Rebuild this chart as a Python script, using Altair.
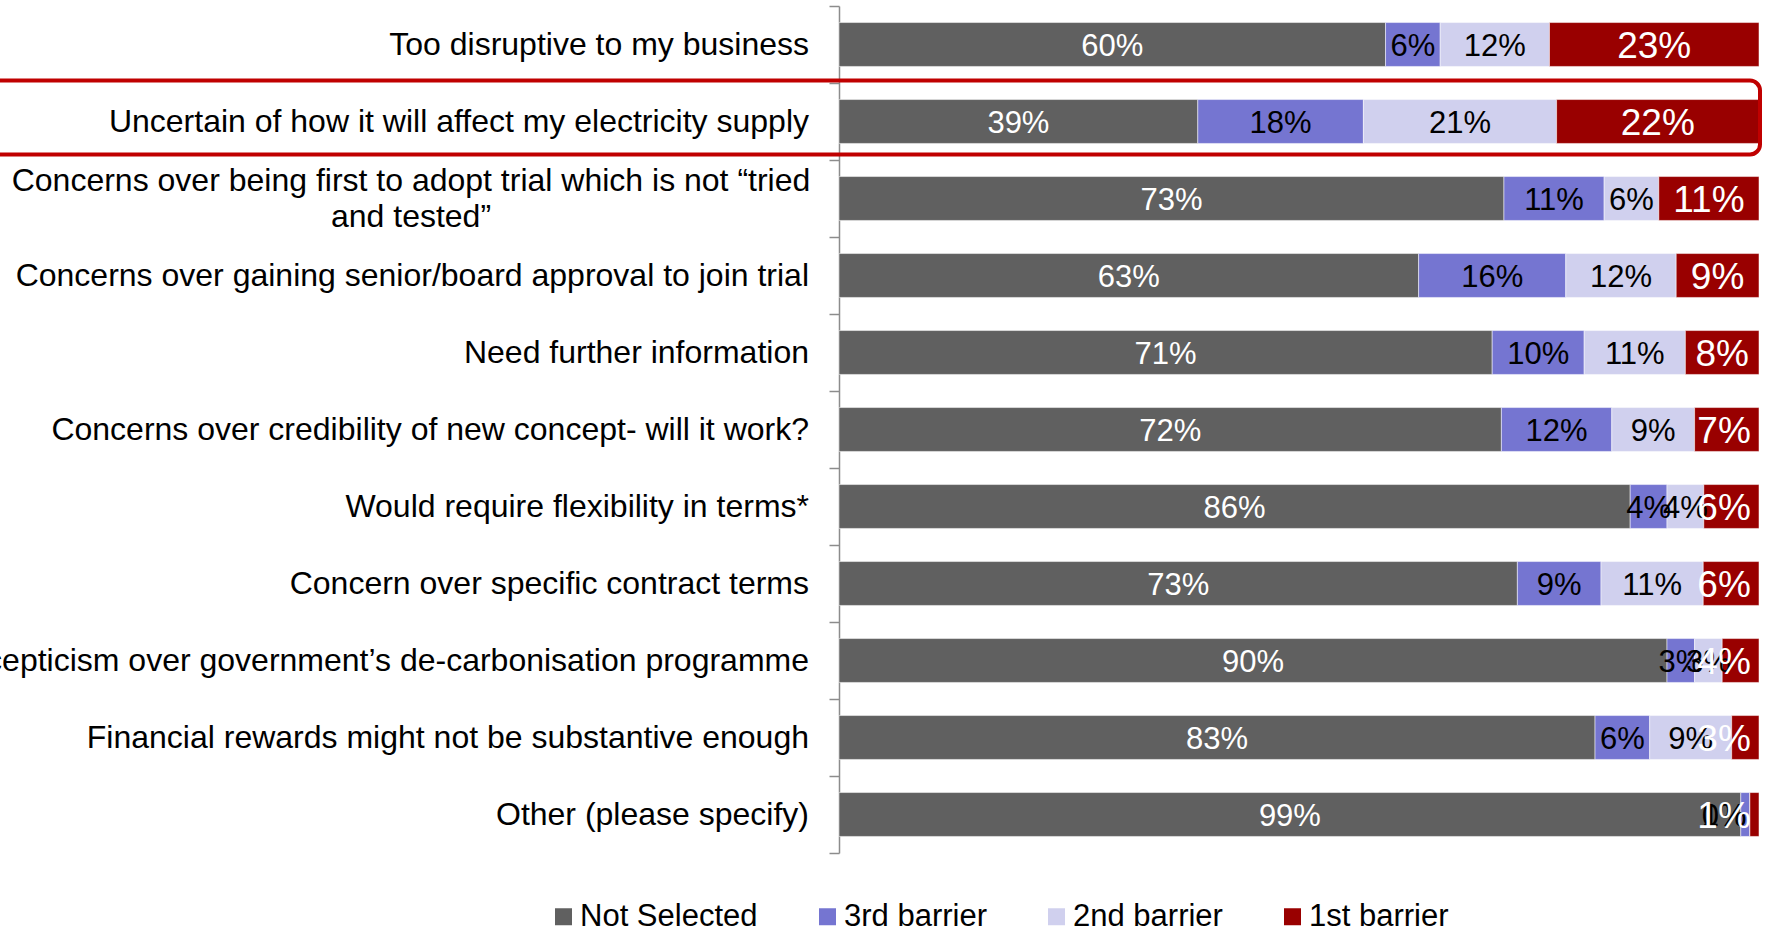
import altair as alt
import pandas as pd

# ---------------- data ----------------
categories = [
    "Too disruptive to my business",
    "Uncertain of how it will affect my electricity supply",
    "Concerns over being first to adopt trial which is not \u201ctried and tested\u201d",
    "Concerns over gaining senior/board approval to join trial",
    "Need further information\u00a0",
    "Concerns over credibility of new concept- will it work?",
    "Would require flexibility in terms*",
    "Concern over specific contract terms",
    "Scepticism over government\u2019s de-carbonisation programme\u00a0",
    "Financial rewards might not be substantive enough",
    "Other (please specify)\u00a0",
]
segments = ["Not Selected", "3rd barrier", "2nd barrier", "1st barrier"]
not_selected = [60, 39, 73, 63, 71, 72, 86, 73, 90, 83, 99]
third_barrier = [6, 18, 11, 16, 10, 12, 4, 9, 3, 6, 1]
second_barrier = [12, 21, 6, 12, 11, 9, 4, 11, 3, 9, 0]
first_barrier = [23, 22, 11, 9, 8, 7, 6, 6, 4, 3, 1]
colors = ["#606060", "#7575D1", "#D0D0EE", "#990000"]

highlighted = categories[1]
wrapped = categories[2]
wrapped_display = "Concerns over being first to adopt trial which is not \u201ctried\nand tested\u201d"

FONT = "Liberation Sans"

# ---------------- tables ----------------
series = [not_selected, third_barrier, second_barrier, first_barrier]
rows = []
for i, c in enumerate(categories):
    for j, s in enumerate(segments):
        rows.append({"cat": c, "seg": s, "order": j, "val": series[j][i]})
df = pd.DataFrame(rows)

label_df = pd.DataFrame({
    "cat": categories,
    "display": [wrapped_display if c == wrapped else c for c in categories],
})

# ---------------- encodings ----------------
y_enc = alt.Y(
    "cat:N",
    sort=categories,
    scale=alt.Scale(paddingInner=0, paddingOuter=0),
    axis=alt.Axis(
        title=None, labels=False, tickBand="extent",
        domainColor="#8c8c8c", tickColor="#8c8c8c",
        domainWidth=1.5, tickWidth=1.5, tickSize=10,
    ),
)
x_scale = alt.Scale(domain=[0, 1], nice=False, zero=True)

base = alt.Chart(df).transform_stack(
    stack="val",
    groupby=["cat"],
    as_=["x0", "x1"],
    sort=[alt.SortField("order", order="ascending")],
    offset="normalize",
).transform_calculate(
    mid="min((datum.x0 + datum.x1) / 2, 0.962)",
    label="datum.val + '%'",
)

bars = base.mark_bar(
    stroke="white", strokeWidth=1, strokeOpacity=0.5, height={"band": 0.57}
).encode(
    x=alt.X("x0:Q", scale=x_scale, axis=None),
    x2="x1:Q",
    y=y_enc,
    color=alt.Color(
        "seg:N",
        scale=alt.Scale(domain=segments, range=colors),
        legend=alt.Legend(
            title=None, orient="none", legendX=-291, legendY=895,
            direction="horizontal", columns=4, symbolType="square",
            symbolSize=289, symbolStrokeWidth=0, labelFontSize=31,
            labelFont=FONT, labelColor="black", labelOffset=1,
            labelLimit=0, columnPadding=54, padding=0,
        ),
    ),
)

txt_enc = dict(x=alt.X("mid:Q", scale=x_scale, axis=None), y=y_enc, text="label:N")

grey_lbl = base.transform_filter(alt.datum.seg == segments[0]).mark_text(
    fontSize=31, font=FONT, color="white", dy=2
).encode(**txt_enc)
mid_lbl = base.transform_filter(
    (alt.datum.seg == segments[1]) | (alt.datum.seg == segments[2])
).mark_text(fontSize=31, font=FONT, color="black", dy=2).encode(**txt_enc)
red_lbl = base.transform_filter(alt.datum.seg == segments[3]).mark_text(
    fontSize=37, font=FONT, color="white", dy=2
).encode(**txt_enc)

cat_lbl = alt.Chart(label_df).transform_filter(alt.datum.cat != wrapped).mark_text(
    align="right", baseline="middle", fontSize=32, font=FONT, color="black"
).encode(x=alt.value(-30), y=y_enc, text="display:N")

wrap_lbl = alt.Chart(label_df).transform_filter(alt.datum.cat == wrapped).mark_text(
    align="center", baseline="middle", fontSize=32, font=FONT, color="black",
    lineBreak="\n", lineHeight=36, dy=-18,
).encode(x=alt.value(-428), y=y_enc, text="display:N")

highlight = alt.Chart(label_df).transform_filter(alt.datum.cat == highlighted).mark_bar(
    filled=False, stroke="#C00000", strokeWidth=4, cornerRadius=10,
    height={"band": 0.96}, yOffset=-4,
).encode(x=alt.value(-900), x2=alt.value(921), y=y_enc)

chart = alt.layer(
    bars, grey_lbl, mid_lbl, red_lbl, cat_lbl, wrap_lbl, highlight
).properties(
    width=920, height=847,
    padding={"left": 839, "top": 6, "right": 6, "bottom": 73},
    autosize=alt.AutoSizeParams(type="none"),
).configure(font=FONT, background="white").configure_view(strokeWidth=0)

chart.save("out.html", embed_options={"renderer": "svg", "actions": False})
